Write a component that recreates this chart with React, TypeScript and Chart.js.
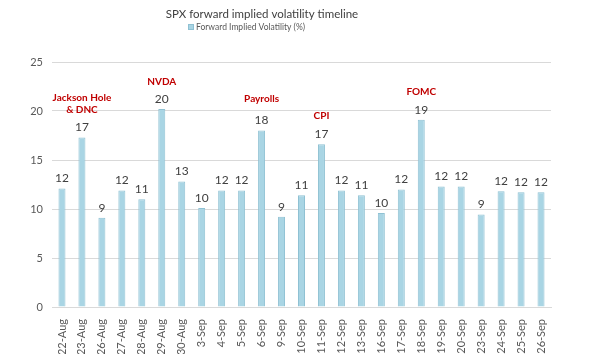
import React, { useEffect, useRef } from "react";
import { Chart, registerables } from "chart.js";

Chart.register(...registerables);

const TITLE = "SPX forward implied volatility timeline";
const SERIES_NAME = "Forward Implied Volatility (%)";
const categories = [
  "22-Aug", "23-Aug", "26-Aug", "27-Aug", "28-Aug", "29-Aug", "30-Aug",
  "3-Sep", "4-Sep", "5-Sep", "6-Sep", "9-Sep", "10-Sep", "11-Sep", "12-Sep",
  "13-Sep", "16-Sep", "17-Sep", "18-Sep", "19-Sep", "20-Sep", "23-Sep",
  "24-Sep", "25-Sep", "26-Sep",
];
const values = [
  12.1, 17.3, 9.1, 11.9, 11.0, 20.2, 12.8, 10.1, 11.9, 11.9, 18.0, 9.2, 11.4,
  16.6, 11.9, 11.4, 9.6, 12.0, 19.1, 12.3, 12.3, 9.45, 11.8, 11.7, 11.7,
];
const yTicks = [0, 5, 10, 15, 20, 25];
// event annotations: category, y value, text lines
const eventCats = ["23-Aug", "29-Aug", "6-Sep", "11-Sep", "18-Sep"];
const eventY = [21.3, 23.0, 21.2, 19.5, 22.0];
const eventText = [["Jackson Hole", "& DNC"], ["NVDA"], ["Payrolls"], ["CPI"], ["FOMC"]];

const FONT = "Lato, 'Open Sans', sans-serif";

export default function App() {
  const ref = useRef<HTMLCanvasElement>(null);
  useEffect(() => {
    document.body.style.margin = "0";
    const canvas = ref.current!;
    const overlay = {
      id: "overlay",
      afterDatasetsDraw(chart: any) {
        const ctx = chart.ctx;
        const xs = chart.scales.x;
        const ys = chart.scales.y;
        ctx.save();
        // value labels
        ctx.fillStyle = "#404040";
        ctx.font = `12px ${FONT}`;
        ctx.textAlign = "center";
        ctx.textBaseline = "bottom";
        const meta = chart.getDatasetMeta(0);
        meta.data.forEach((bar: any, i: number) => {
          ctx.fillText(String(Math.round(values[i])), bar.x, bar.y - 4);
        });
        // event annotations
        ctx.fillStyle = "#c00000";
        ctx.font = `bold 10px ${FONT}`;
        ctx.textBaseline = "middle";
        eventCats.forEach((c, k) => {
          const x = xs.getPixelForValue(categories.indexOf(c));
          const y = ys.getPixelForValue(eventY[k]);
          eventText[k].forEach((t, j) => ctx.fillText(t, x, y + j * 12));
        });
        ctx.restore();
      },
      afterDraw(chart: any) {
        const ctx = chart.ctx;
        ctx.save();
        ctx.fillStyle = "#404040";
        ctx.font = `11.5px ${FONT}`;
        ctx.textAlign = "center";
        ctx.textBaseline = "middle";
        ctx.fillText(TITLE, 262, 14);
        ctx.font = `8.5px ${FONT}`;
        ctx.textAlign = "left";
        ctx.fillStyle = "#a9d5e4";
        ctx.fillRect(188, 24, 6, 6);
        ctx.strokeStyle = "#8fc1d3";
        ctx.strokeRect(188.5, 24.5, 5, 5);
        ctx.fillStyle = "#595959";
        ctx.fillText(SERIES_NAME, 196, 27.5);
        ctx.restore();
      },
    };
    const chart = new Chart(canvas, {
      type: "bar",
      data: {
        labels: categories,
        datasets: [
          {
            label: SERIES_NAME,
            data: values,
            backgroundColor: "#a9d5e4",
            borderColor: "#8fc1d3",
            borderWidth: 1,
            barPercentage: 0.5,
            categoryPercentage: 0.7,
          },
        ],
      },
      options: {
        responsive: false,
        animation: false,
        layout: { padding: { top: 62, right: 49, left: 0, bottom: 0 } },
        plugins: {
          legend: { display: false },
          title: { display: false },
          tooltip: { enabled: false },
        },
        scales: {
          x: {
            grid: { display: false },
            border: { display: true, color: "#d9d9d9" },
            ticks: {
              minRotation: 90,
              maxRotation: 90,
              autoSkip: false,
              color: "#595959",
              font: { family: FONT, size: 11 },
              padding: 4,
            },
            afterFit(s: any) {
              s.height = 47;
            },
          },
          y: {
            min: 0,
            max: 25,
            afterBuildTicks(s: any) {
              s.ticks = yTicks.map((v) => ({ value: v }));
            },
            grid: { color: "#d9d9d9", drawTicks: false },
            border: { display: false },
            ticks: {
              color: "#595959",
              font: { family: FONT, size: 11 },
              padding: 9,
            },
            afterFit(s: any) {
              s.width = 52;
            },
          },
        },
      },
      plugins: [overlay],
    });
    return () => chart.destroy();
  }, []);
  return (
    <div style={{ width: 600, height: 354, background: "#fff" }}>
      <canvas ref={ref} width={600} height={354} />
    </div>
  );
}
